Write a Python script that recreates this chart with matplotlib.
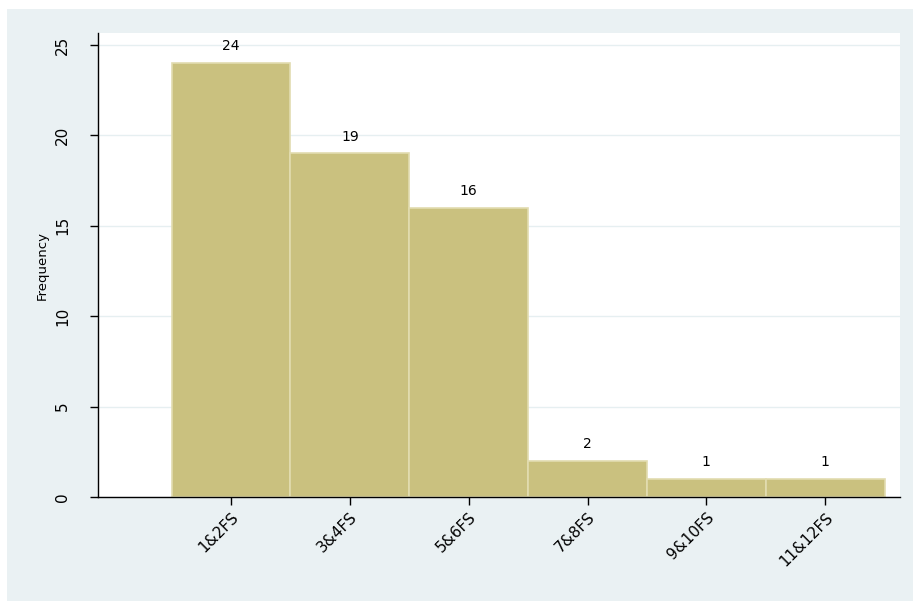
import matplotlib.pyplot as plt
import numpy as np
from matplotlib.patches import Rectangle

categories = ['1&2FS', '3&4FS', '5&6FS', '7&8FS', '9&10FS', '11&12FS']
frequency = [24, 19, 16, 2, 1, 1]

bg = '#EAF1F3'
bar_color = '#CAC17F'

fig = plt.figure(figsize=(9.13, 6.01), dpi=100, facecolor='white')
# Stata-style light background panel (white strip at top and left)
fig.patches.append(Rectangle((7 / 913, 0), 1, 1 - 9 / 601, transform=fig.transFigure,
                             facecolor=bg, edgecolor='none', zorder=-10))

ax = fig.add_axes([98 / 913, 104 / 601, 802 / 913, 464 / 601])
ax.set_facecolor('white')

x = np.arange(len(categories))
bars = ax.bar(x, frequency, width=1.0, color=bar_color, edgecolor='#E2DCB0', linewidth=1.2, zorder=2)

for rect in bars:
    h = rect.get_height()
    ax.annotate(f'{h:g}', xy=(rect.get_x() + rect.get_width() / 2, h),
                xytext=(0, 7), textcoords='offset points',
                ha='center', va='bottom', fontsize=10)

ax.set_xlim(-1.12, 5.63)
ax.set_ylim(0, 25.66)
ax.set_yticks([0, 5, 10, 15, 20, 25])
ax.set_yticklabels(['0', '5', '10', '15', '20', '25'], rotation=90, va='center', fontsize=11)
ax.set_xticks(x)
ax.set_xticklabels(categories, rotation=45, ha='right', rotation_mode='anchor', fontsize=11)
ax.set_ylabel('Frequency', fontsize=9.5, labelpad=5)

ax.yaxis.grid(True, color='#E6EFF1', linewidth=1, zorder=0)
ax.set_axisbelow(True)
for s in ['top', 'right']:
    ax.spines[s].set_visible(False)
ax.spines['left'].set_linewidth(1.0)
ax.spines['bottom'].set_linewidth(1.0)
ax.tick_params(length=6, width=1)
ax.tick_params(axis='y', pad=14)
ax.tick_params(axis='x', pad=3)

fig.savefig('out.png', dpi=100, facecolor=fig.get_facecolor())
